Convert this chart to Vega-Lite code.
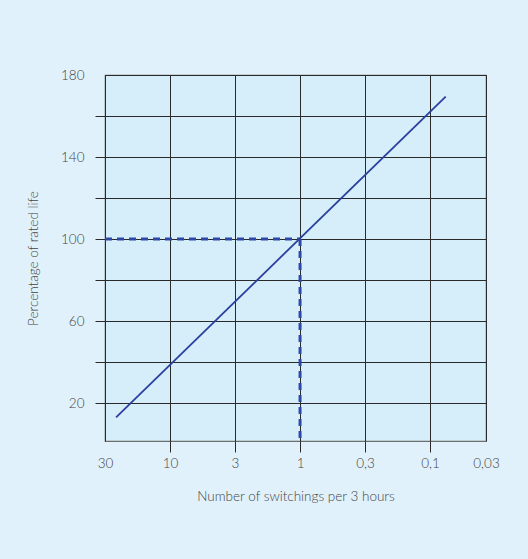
{
  "$schema": "https://vega.github.io/schema/vega-lite/v6.json",
  "autosize": "none",
  "width": 381,
  "height": 366,
  "padding": {"left": 105, "top": 75, "right": 42, "bottom": 118},
  "background": "#e0f1fb",
  "config": {
    "view": {"fill": "#d5eef9", "stroke": "#6e6e6e", "strokeWidth": 1.2},
    "font": "Lato",
    "axis": {
      "labelFont": "Lato", "titleFont": "Lato", "labelColor": "#444444", "titleColor": "#444444",
      "labelFontSize": 13.5, "titleFontSize": 13.5, "titleFontWeight": 300, "labelFontWeight": 300,
      "domain": false, "gridColor": "#2a2a2a", "gridOpacity": 1, "gridWidth": 1,
      "tickWidth": 1, "tickSize": 10, "zindex": 0
    }
  },
  "datasets": {
    "curve": [
      {"x": 0.17, "y": 13},
      {"x": 5.24, "y": 169.5}
    ],
    "guides": [
      {"seg": "h", "x": 0, "y": 100},
      {"seg": "h", "x": 3, "y": 100},
      {"seg": "v", "x": 3, "y": 100},
      {"seg": "v", "x": 3, "y": 1.5}
    ]
  },
  "layer": [
    {
      "data": {"name": "guides"},
      "mark": {"type": "line", "color": "#2d48a8", "strokeWidth": 3, "strokeDash": [7, 5]},
      "encoding": {
        "x": {
          "field": "x", "type": "quantitative",
          "scale": {"domain": [0, 5.86], "nice": false, "zero": false},
          "axis": {
            "values": [0, 1, 2, 3, 4, 5, 5.86],
            "labelExpr": "datum.value == 0 ? '30' : datum.value == 1 ? '10' : datum.value == 2 ? '3' : datum.value == 3 ? '1' : datum.value == 4 ? '0,3' : datum.value == 5 ? '0,1' : '0,03'",
            "tickColor": {"condition": {"test": "datum.value > 0 && datum.value < 5.5", "value": "#2a2a2a"}, "value": "transparent"},
            "tickSize": 11,
            "labelPadding": 4,
            "labelFlush": false,
            "title": "Number of switchings per 3 hours",
            "titlePadding": 20
          }
        },
        "y": {
          "field": "y", "type": "quantitative",
          "scale": {"domain": [1.5, 180], "nice": false, "zero": false},
          "axis": {
            "values": [20, 40, 60, 80, 100, 120, 140, 160, 180],
            "labelExpr": "(datum.value - 20) % 40 == 0 ? datum.value : ''",
            "tickColor": {"condition": {"test": "datum.value < 170", "value": "#2a2a2a"}, "value": "transparent"},
            "labelPadding": 11,
            "labelFlush": false,
            "title": "Percentage of rated life",
            "titlePadding": 20
          }
        },
        "detail": {"field": "seg"}
      }
    },
    {
      "data": {"name": "curve"},
      "mark": {"type": "line", "color": "#2b3f9e", "strokeWidth": 1.8},
      "encoding": {
        "x": {"field": "x", "type": "quantitative"},
        "y": {"field": "y", "type": "quantitative"}
      }
    }
  ]
}
